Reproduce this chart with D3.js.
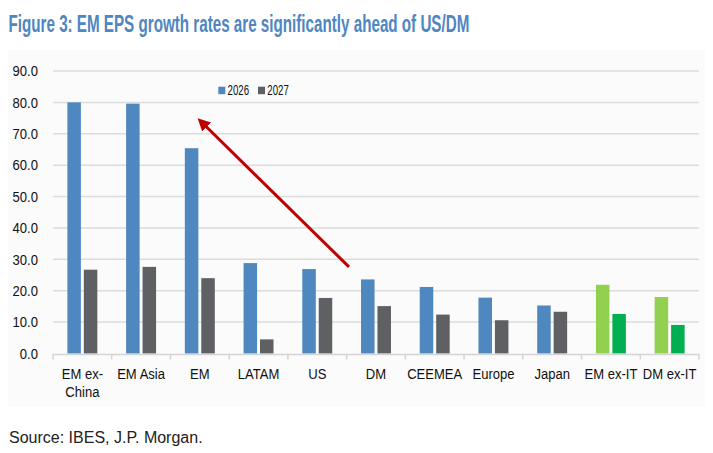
<!DOCTYPE html>
<html>
<head>
<meta charset="utf-8">
<script src="https://d3js.org/d3.v7.min.js"></script>
<style>
    body { margin: 0; background: #fff; }
    text { font-family: "Liberation Sans", Arial, sans-serif; }
</style>
</head>
<body>
<div id="canvas"></div>

<script>
    // chart data
    const categories = ["EM ex-China", "EM Asia", "EM", "LATAM", "US", "DM", "CEEMEA", "Europe", "Japan", "EM ex-IT", "DM ex-IT"];
    const values2026 = [80.0, 79.6, 65.4, 28.8, 26.9, 23.6, 21.2, 17.8, 15.3, 21.9, 18.0];
    const values2027 = [26.7, 27.6, 24.0, 4.5, 17.7, 15.1, 12.4, 10.6, 13.3, 12.6, 9.1];
    const yTicks = [0, 10, 20, 30, 40, 50, 60, 70, 80, 90];
    const seriesNames = ["2026", "2027"];
    // the last two groups are drawn in greens
    const greenCats = ["EM ex-IT", "DM ex-IT"];

    const width = 713;
    const height = 453;
    const margin = {left: 53, right: 14, top: 71, bottom: 100};
    const narrow = 0.87; // no Arial Narrow here, so squeeze the text

    const svg = d3.select("#canvas")
        .append("svg")
        .attr("width", width)
        .attr("height", height);

    // faint panel behind the chart
    svg.append("rect")
        .attr("x", 8).attr("y", 50)
        .attr("width", 697).attr("height", 357)
        .attr("fill", "#fbfbfb");

    // title, squeezed to the narrow width of the original
    const title = svg.append("text")
        .attr("font-size", 24)
        .attr("font-weight", "bold")
        .attr("fill", "#4f86c0")
        .text("Figure 3: EM EPS growth rates are significantly ahead of US/DM");
    const titleW = title.node().getComputedTextLength();
    title.attr("transform", `translate(8.5,31.7) scale(${461 / titleW},1)`);

    const x = d3.scaleBand()
        .domain(categories)
        .range([margin.left, width - margin.right]);

    const y = d3.scaleLinear()
        .domain([0, 90])
        .range([353.5, margin.top]);

    // gridlines
    svg.append("g")
        .selectAll("line")
        .data(yTicks.filter(d => d > 0))
        .enter()
        .append("line")
        .attr("x1", margin.left)
        .attr("x2", width - margin.right)
        .attr("y1", d => y(d))
        .attr("y2", d => y(d))
        .attr("stroke", "#dcdcdc")
        .attr("stroke-width", 1.5);

    // y axis labels
    svg.append("g")
        .selectAll("text")
        .data(yTicks)
        .enter()
        .append("text")
        .attr("transform", d => `translate(38,${y(d) + 5.3}) scale(${narrow},1)`)
        .attr("text-anchor", "end")
        .attr("font-size", 15)
        .attr("fill", "#111")
        .text(d => d.toFixed(1));

    const bw = x.bandwidth() * 0.23;
    const gap = x.bandwidth() * 0.05;

    const rows = categories.map((c, i) => ({c, v: [values2026[i], values2027[i]]}));

    const group = svg.append("g")
        .selectAll("g")
        .data(rows)
        .enter()
        .append("g");

    group.selectAll("rect")
        .data(d => d.v.map((v, k) => ({c: d.c, v, k})))
        .enter()
        .append("rect")
        .attr("x", d => x(d.c) + x.bandwidth() / 2 + (d.k === 0 ? -gap / 2 - bw : gap / 2))
        .attr("y", d => y(d.v))
        .attr("width", bw)
        .attr("height", d => y(0) - y(d.v))
        .attr("fill", d => {
            const green = greenCats.includes(d.c);
            if (d.k === 0) return green ? "#92d050" : "#4f88be";
            return green ? "#00b050" : "#5f6064";
        });

    // x axis baseline with ticks between groups
    svg.append("line")
        .attr("x1", margin.left)
        .attr("x2", width - margin.right)
        .attr("y1", y(0) + 1)
        .attr("y2", y(0) + 1)
        .attr("stroke", "#d4d4d4")
        .attr("stroke-width", 1.5);

    svg.append("g")
        .selectAll("line")
        .data(categories.concat(["end"]))
        .enter()
        .append("line")
        .attr("x1", (d, i) => margin.left + i * x.step())
        .attr("x2", (d, i) => margin.left + i * x.step())
        .attr("y1", y(0) + 1)
        .attr("y2", y(0) + 6)
        .attr("stroke", "#d4d4d4")
        .attr("stroke-width", 1.5);

    // category labels, "EM ex-China" wraps onto two lines
    const labelLines = c => c === "EM ex-China" ? ["EM ex-", "China"] : [c];
    svg.append("g")
        .selectAll("text")
        .data(categories)
        .enter()
        .append("text")
        .attr("transform", d => `translate(${x(d) + x.bandwidth() / 2},379) scale(${narrow},1)`)
        .attr("text-anchor", "middle")
        .attr("font-size", 15)
        .attr("fill", "#111")
        .selectAll("tspan")
        .data(d => labelLines(d))
        .enter()
        .append("tspan")
        .attr("x", 0)
        .attr("dy", (d, i) => i === 0 ? 0 : 18.5)
        .text(d => d);

    // legend
    const legend = svg.append("g")
        .selectAll("g")
        .data(seriesNames)
        .enter()
        .append("g")
        .attr("transform", (d, i) => `translate(${218.3 + i * 39.7},86.7)`);

    legend.append("rect")
        .attr("width", 7)
        .attr("height", 7.5)
        .attr("fill", (d, i) => i === 0 ? "#4f88be" : "#5f6064");

    legend.append("text")
        .attr("transform", "translate(9.3,8.7) scale(0.7,1)")
        .attr("font-size", 13.8)
        .attr("fill", "#111")
        .text(d => d);

    // red arrow from DM area up towards EM
    const arrowFrom = {c: "DM", offset: -0.46, v: 27.6};
    const arrowTo = {c: "EM", offset: 0, v: 74.3};
    const ax = a => x(a.c) + x.bandwidth() / 2 + a.offset * x.step();

    svg.append("defs").append("marker")
        .attr("id", "head")
        .attr("viewBox", "0 0 10 10")
        .attr("refX", 2)
        .attr("refY", 5)
        .attr("markerWidth", 4.2)
        .attr("markerHeight", 4.2)
        .attr("orient", "auto")
        .append("path")
        .attr("d", "M0,0 L10,5 L0,10 Z")
        .attr("fill", "#c00000");

    svg.append("line")
        .attr("x1", ax(arrowFrom))
        .attr("y1", y(arrowFrom.v))
        .attr("x2", ax(arrowTo) + 5)
        .attr("y2", y(arrowTo.v) + 5)
        .attr("stroke", "#c00000")
        .attr("stroke-width", 3)
        .attr("marker-end", "url(#head)");

    svg.append("text")
        .attr("x", 9)
        .attr("y", 443)
        .attr("font-size", 16)
        .attr("fill", "#222")
        .text("Source: IBES, J.P. Morgan.");
</script>
</body>
</html>
